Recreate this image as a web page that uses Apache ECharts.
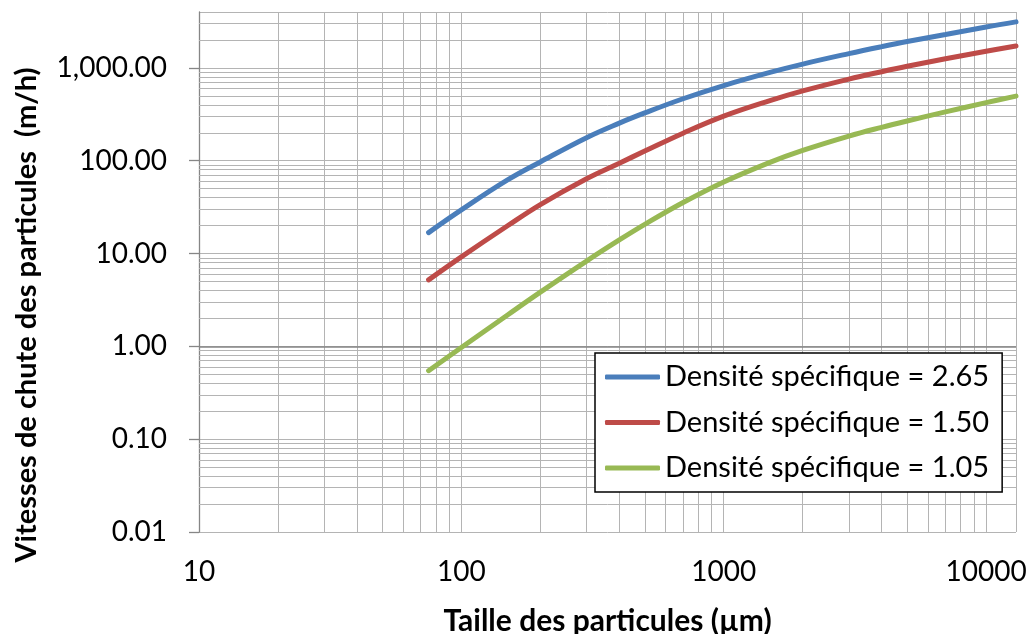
<!DOCTYPE html>
<html><head><meta charset="utf-8">
<script src="https://cdn.jsdelivr.net/npm/echarts@6/dist/echarts.min.js"></script>
<style>html,body{margin:0;padding:0;background:#fff}#c{width:1028px;height:634px}</style>
</head><body><div id="c"></div>
<script>
// ---- data ----
const particleSizes = [75, 100, 150, 200, 300, 400, 500, 700, 1000, 1500, 2000, 3000, 4000, 5000, 7000, 10000, 13000];
const seriesNames = ['Densité spécifique = 2.65', 'Densité spécifique = 1.50', 'Densité spécifique = 1.05'];
const velocitySG265 = [16.8, 29.5, 62, 97, 177, 254, 327, 465, 645, 893, 1099, 1425, 1694, 1923, 2291, 2761, 3133];
const velocitySG150 = [5.2, 9.2, 19.9, 33.7, 64, 94, 127, 198, 302, 444, 565, 758, 910, 1040, 1252, 1508, 1724];
const velocitySG105 = [0.547, 0.973, 2.18, 3.84, 8.3, 14.0, 20.6, 35.4, 59.0, 96, 129, 184, 229, 268, 336, 422, 497];
const xTickValues = [10, 100, 1000, 10000];
const xTickLabels = ['10', '100', '1000', '10000'];
const yTickValues = [0.01, 0.1, 1, 10, 100, 1000];
const yTickLabels = ['0.01', '0.10', '1.00', '10.00', '100.00', '1,000.00'];
const xTitle = 'Taille des particules (µm)';
const yTitle = 'Vitesses de chute des particules  (m/h)';

const X_MIN = 10, X_MAX = 13000, Y_MIN = 0.01, Y_MAX = 4000;
const FONT = 'Lato';

function pick(values, labels) {
  return function (v) {
    for (let i = 0; i < values.length; i++) {
      if (Math.abs(Math.log10(v) - Math.log10(values[i])) < 1e-6) return labels[i];
    }
    return '';
  };
}

// minor gridlines at 2..9 of every decade (inside the axis range)
const minorX = [], minorY = [];
for (let d = 10; d < X_MAX; d *= 10) for (let k = 2; k <= 9; k++) { const v = k * d; if (v < X_MAX) minorX.push({ xAxis: v }); }
for (let e = -2; e <= 3; e++) { const d = Math.pow(10, e); for (let k = 2; k <= 9; k++) { const v = +(k * d).toPrecision(6); if (v < Y_MAX) minorY.push({ yAxis: v }); } }

const colors = ['#4a7ebb', '#be4b48', '#98b954'];
const values = [velocitySG265, velocitySG150, velocitySG105];
const GRID = '#b4b4b4';

const chart = echarts.init(document.getElementById('c'), null, { renderer: 'canvas' });
chart.setOption({
  animation: false,
  backgroundColor: '#fff',
  grid: { left: 199, right: 12, top: 12, bottom: 102, containLabel: false, outerBoundsMode: 'none' },
  xAxis: {
    type: 'log', logBase: 10, min: X_MIN, max: X_MAX,
    name: xTitle, nameLocation: 'middle', nameGap: 74,
    nameTextStyle: { fontFamily: FONT, fontSize: 30, fontWeight: 'bold', color: '#000' },
    axisLine: { show: false },
    axisTick: { show: false },
    axisLabel: { formatter: pick(xTickValues, xTickLabels), fontFamily: FONT, fontSize: 28, color: '#000', margin: 26, showMaxLabel: false },
    splitLine: { show: true, lineStyle: { color: GRID, width: 1 } }
  },
  yAxis: {
    type: 'log', logBase: 10, min: Y_MIN, max: Y_MAX,
    axisLine: { show: true, lineStyle: { color: '#868686', width: 1.3 } },
    axisTick: { show: true, length: 10, inside: false, lineStyle: { color: '#868686', width: 1.3 } },
    axisLabel: { formatter: pick(yTickValues, yTickLabels), fontFamily: FONT, fontSize: 28, color: '#000', margin: 32, showMaxLabel: false },
    splitLine: { show: true, lineStyle: { color: GRID, width: 1 } }
  },
  legend: {
    data: seriesNames, orient: 'vertical', left: 595, top: 353, z: 20,
    padding: [7, 13, 7, 10], itemGap: 11.5, itemWidth: 55, itemHeight: 5,
    icon: 'roundRect',
    backgroundColor: '#fff', borderColor: '#000', borderWidth: 1.5, borderRadius: 0,
    textStyle: { fontFamily: FONT, fontSize: 29, color: '#000', lineHeight: 34 }
  },
  graphic: [{
    type: 'text', x: 27, y: 315, rotation: Math.PI / 2, z: 10,
    style: { text: yTitle, fontFamily: FONT, fontSize: 29, fontWeight: 'bold', fill: '#000', textAlign: 'center', textVerticalAlign: 'middle' }
  }],
  series: [
    {
      type: 'line', name: 'grid', data: [], z: 1, silent: true, symbol: 'none',
      markLine: {
        z: 1, silent: true, symbol: ['none', 'none'], label: { show: false }, animation: false,
        lineStyle: { color: GRID, width: 1, type: 'solid' },
        emphasis: { disabled: true },
        data: minorX.concat(minorY).concat([{ yAxis: 1, lineStyle: { color: '#868686', width: 1.5, type: 'solid' } }])
      }
    }
  ].concat(seriesNames.map((n, i) => ({
    type: 'line', name: n, z: 3,
    data: particleSizes.map((x, j) => [x, values[i][j]]),
    smooth: 0.4, symbol: 'none', color: colors[i],
    lineStyle: { color: colors[i], width: 5, cap: 'round' }
  })))
});
</script></body></html>
